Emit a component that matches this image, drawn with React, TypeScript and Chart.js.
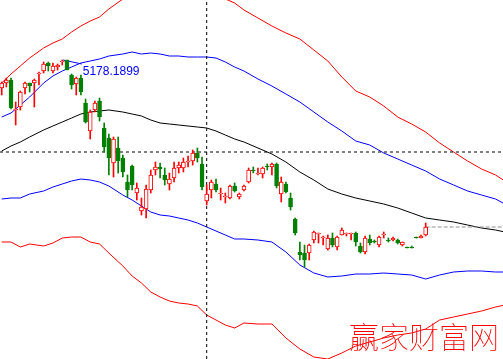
import { useEffect, useRef } from 'react';
import { Chart, registerables } from 'chart.js';

Chart.register(...registerables);

// Candles (one per trading day, index 0..91)
const opens = [5224, 5234, 5240, 5180, 5186, 5224, 5234, 5234, 5252, 5258, 5274, 5258, 5266, 5276, 5280, 5250, 5232, 5244, 5194, 5138, 5180, 5198, 5144, 5124, 5074, 5104, 5084, 5036, 5068, 5014, 4978, 4982, 5020, 5060, 5066, 5050, 5032, 5044, 5064, 5064, 5076, 5078, 5094, 5072, 4998, 5020, 5032, 5012, 5006, 5004, 5028, 5006, 5020, 5036, 5060, 5052, 5052, 5068, 5066, 5072, 5012, 5032, 5004, 4962, 4896, 4894, 4894, 4920, 4932, 4924, 4902, 4924, 4906, 4930, 4932, 4932, 4934, 4908, 4896, 4922, 4918, 4910, 4930, 4920, 4920, 4920, 4910, 4906, 4906, 4926, 4924, 4930];
const highs = [5236, 5244, 5244, 5196, 5218, 5236, 5234, 5242, 5256, 5276, 5276, 5274, 5272, 5280, 5280, 5252, 5246, 5250, 5202, 5180, 5198, 5204, 5154, 5132, 5126, 5126, 5090, 5050, 5070, 5034, 5004, 5030, 5060, 5076, 5074, 5064, 5054, 5076, 5076, 5084, 5088, 5100, 5104, 5086, 5030, 5040, 5042, 5024, 5014, 5030, 5034, 5014, 5030, 5064, 5066, 5064, 5066, 5072, 5074, 5074, 5046, 5036, 5014, 4964, 4916, 4910, 4912, 4938, 4934, 4928, 4930, 4934, 4928, 4944, 4934, 4934, 4936, 4914, 4928, 4930, 4920, 4928, 4936, 4924, 4926, 4922, 4916, 4906, 4908, 4926, 4930, 4954];
const lows = [5210, 5226, 5182, 5150, 5180, 5212, 5216, 5186, 5230, 5254, 5258, 5254, 5260, 5270, 5260, 5222, 5210, 5210, 5154, 5122, 5176, 5158, 5096, 5050, 5046, 5054, 5046, 5006, 5020, 5000, 4970, 4964, 5014, 5050, 5044, 5030, 5020, 5036, 5054, 5056, 5066, 5070, 5076, 5020, 4990, 5004, 5016, 5000, 4994, 5002, 5016, 5002, 5018, 5034, 5054, 5050, 5044, 5060, 5050, 5024, 4996, 5014, 4980, 4930, 4880, 4866, 4880, 4914, 4914, 4910, 4900, 4906, 4900, 4930, 4928, 4920, 4908, 4894, 4892, 4910, 4914, 4906, 4924, 4916, 4918, 4912, 4908, 4904, 4904, 4924, 4924, 4928];
const closes = [5234, 5240, 5184, 5182, 5216, 5234, 5228, 5240, 5254, 5272, 5268, 5268, 5270, 5278, 5260, 5230, 5244, 5216, 5156, 5176, 5194, 5166, 5106, 5084, 5122, 5078, 5056, 5020, 5030, 5024, 4986, 5022, 5050, 5066, 5062, 5040, 5042, 5064, 5070, 5076, 5078, 5094, 5084, 5026, 5012, 5036, 5020, 5014, 5008, 5028, 5018, 5012, 5028, 5060, 5058, 5054, 5064, 5066, 5072, 5028, 5036, 5016, 4986, 4934, 4890, 4880, 4910, 4936, 4934, 4926, 4924, 4910, 4926, 4940, 4934, 4934, 4916, 4896, 4924, 4914, 4916, 4926, 4932, 4918, 4924, 4914, 4916, 4904, 4904, 4924, 4928, 4946];

// Band curves, sampled at these day indices
const bandIdx = [0, 2, 4, 6, 9, 11, 13, 15, 17, 19, 21, 23, 26, 28, 30, 32, 34, 36, 38, 40, 42, 44, 46, 48, 50, 52, 55, 58, 61, 64, 67, 70, 73, 76, 79, 82, 85, 88, 91, 94, 97, 100, 103, 106, 108];
const upperOuter = [5234, 5252, 5268, 5284, 5304, 5314, 5322, 5336, 5348, 5358, 5366, 5382, 5402, 5416, 5424, 5430, 5434, 5436, 5434, 5430, 5424, 5416, 5408, 5402, 5394, 5380, 5364, 5348, 5334, 5322, 5300, 5278, 5246, 5218, 5206, 5188, 5166, 5152, 5136, 5114, 5096, 5078, 5062, 5050, 5038];
const upperInner = [5166, 5174, 5190, 5206, 5234, 5248, 5258, 5266, 5274, 5278, 5282, 5288, 5292, 5296, 5292, 5294, 5292, 5288, 5288, 5286, 5286, 5286, 5284, 5276, 5266, 5258, 5242, 5228, 5212, 5196, 5176, 5156, 5138, 5118, 5110, 5094, 5082, 5070, 5058, 5042, 5030, 5018, 5010, 5002, 4992];
const middle = [5098, 5108, 5116, 5126, 5140, 5148, 5156, 5164, 5172, 5176, 5178, 5180, 5176, 5172, 5168, 5160, 5154, 5152, 5150, 5148, 5146, 5144, 5138, 5130, 5122, 5116, 5104, 5092, 5076, 5056, 5040, 5022, 5012, 5004, 4998, 4992, 4984, 4974, 4964, 4960, 4956, 4950, 4944, 4940, 4936];
const lowerInner = [5002, 5004, 5004, 5012, 5018, 5026, 5032, 5038, 5042, 5040, 5036, 5028, 5010, 5000, 4988, 4976, 4970, 4968, 4964, 4960, 4954, 4946, 4938, 4930, 4922, 4922, 4920, 4916, 4896, 4870, 4854, 4846, 4848, 4852, 4852, 4854, 4852, 4850, 4842, 4850, 4856, 4858, 4858, 4856, 4856];
const lowerOuter = [4916, 4916, 4906, 4912, 4908, 4914, 4924, 4926, 4926, 4916, 4912, 4894, 4868, 4848, 4834, 4816, 4806, 4798, 4794, 4792, 4788, 4770, 4760, 4750, 4744, 4754, 4752, 4752, 4724, 4702, 4686, 4682, 4694, 4708, 4716, 4724, 4730, 4734, 4742, 4760, 4766, 4772, 4778, 4786, 4790];

// Label leader segment
const leaderIdx = [13.2, 17.2];
const leaderVal = [5280, 5272];

const crossIndex = 44;
const crossPrice = 5096;
const lastPrice = 4946;
const labelText = '5178.1899';
const labelAt = { x: 17.4, y: 5256 };
const watermark = '赢家财富网';

const X_MIN = -0.365;
const X_MAX = 107.6;
const Y_MIN = 4682;
const Y_MAX = 5400;

const RED = '#ff0000';
const GREEN = '#008000';
const BLUE = '#0000ff';

export default function App() {
  const ref = useRef<HTMLCanvasElement | null>(null);

  useEffect(() => {
    document.body.style.margin = '0';
    const canvas = ref.current;
    if (!canvas) return;
    const days = opens.map((_, i) => i);
    const isUp = days.map((i) => closes[i] >= opens[i]);

    const line = (xs: number[], ys: number[], color: string, extra: any = {}) => ({
      type: 'line',
      data: xs.map((x, k) => ({ x, y: ys[k] })),
      borderColor: color,
      borderWidth: 1,
      pointRadius: 0,
      tension: 0,
      fill: false,
      order: 3,
      ...extra,
    });

    const textPlugin = {
      id: 'texts',
      afterDraw(chart: any) {
        const { ctx, scales, chartArea } = chart;
        ctx.save();
        ctx.fillStyle = BLUE;
        ctx.font = '12px "Liberation Sans", Arial, sans-serif';
        ctx.textBaseline = 'middle';
        ctx.textAlign = 'left';
        ctx.fillText(labelText, scales.x.getPixelForValue(labelAt.x), scales.y.getPixelForValue(labelAt.y));
        ctx.fillStyle = RED;
        ctx.font = '100 30px "Noto Sans CJK SC"';
        ctx.textAlign = 'right';
        ctx.textBaseline = 'alphabetic';
        ctx.fillText(watermark, chartArea.right - 4, chartArea.bottom - 11);
        ctx.restore();
      },
    };

    const chart = new Chart(canvas, {
      type: 'bar',
      data: {
        datasets: [
          {
            type: 'bar',
            data: days.map((i) => ({ x: i, y: [opens[i], closes[i]] })),
            backgroundColor: isUp.map((u) => (u ? '#ffffff' : GREEN)),
            borderColor: isUp.map((u) => (u ? RED : GREEN)),
            borderWidth: 1,
            borderSkipped: false,
            barThickness: 4,
            grouped: false,
            order: 0,
          } as any,
          {
            type: 'bar',
            data: days.map((i) => ({ x: i, y: [lows[i], highs[i]] })),
            backgroundColor: isUp.map((u) => (u ? RED : GREEN)),
            borderWidth: 0,
            barThickness: 1,
            grouped: false,
            order: 1,
          } as any,
          line(bandIdx, upperOuter, RED),
          line(bandIdx, upperInner, BLUE),
          line(bandIdx, middle, '#000000'),
          line(bandIdx, lowerInner, BLUE),
          line(bandIdx, lowerOuter, RED),
          line(leaderIdx, leaderVal, BLUE),
          line([X_MIN, X_MAX], [crossPrice, crossPrice], '#000000', { borderDash: [3, 3], order: 2 }),
          line([crossIndex, crossIndex], [Y_MIN, Y_MAX], '#000000', { borderDash: [3, 3], order: 2 }),
          line([91, X_MAX], [lastPrice, lastPrice], '#909090', { borderDash: [4, 2], order: 2 }),
        ] as any,
      },
      options: {
        responsive: false,
        animation: false,
        devicePixelRatio: 1,
        layout: { padding: 0 },
        plugins: { legend: { display: false }, tooltip: { enabled: false } },
        scales: {
          x: { type: 'linear', display: false, min: X_MIN, max: X_MAX, offset: false },
          y: { type: 'linear', display: false, min: Y_MIN, max: Y_MAX },
        },
      } as any,
      plugins: [textPlugin],
    });
    return () => chart.destroy();
  }, []);

  return (
    <div style={{ width: 503, height: 359, background: '#ffffff' }}>
      <canvas ref={ref} width={503} height={359} />
    </div>
  );
}
